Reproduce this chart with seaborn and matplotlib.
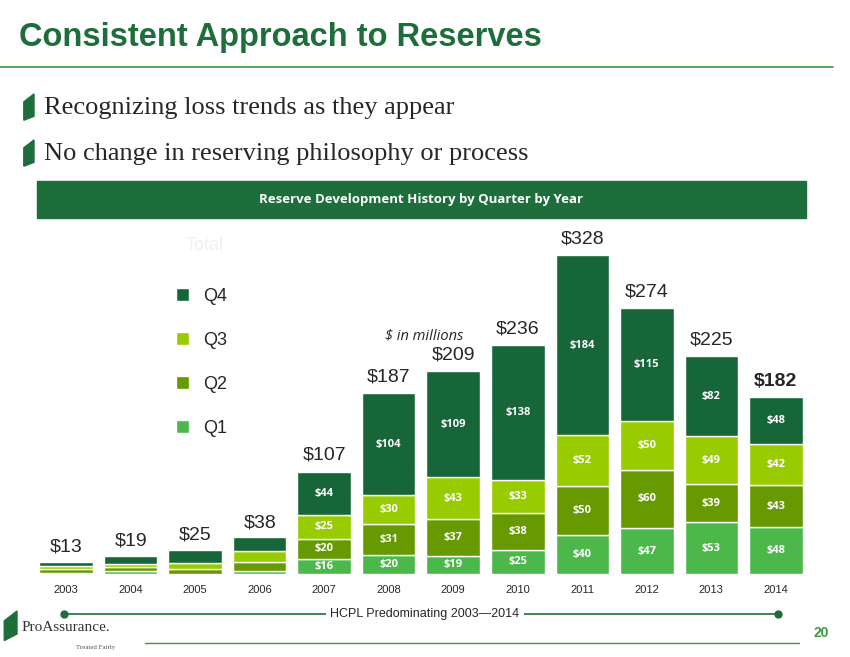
import numpy as np
import pandas as pd
import matplotlib.pyplot as plt
import seaborn as sns
from matplotlib.patches import Rectangle, Polygon
from matplotlib.lines import Line2D

years = ["2003", "2004", "2005", "2006", "2007", "2008", "2009", "2010", "2011", "2012", "2013", "2014"]
q1 = [1, 3, 0, 3, 16, 20, 19, 25, 40, 47, 53, 48]
q2 = [4, 4, 5, 9, 20, 31, 37, 38, 50, 60, 39, 43]
q3 = [3, 3, 6, 12, 25, 30, 43, 33, 52, 50, 49, 42]
q4 = [5, 9, 14, 14, 44, 104, 109, 138, 184, 115, 82, 48]
totals = [13, 19, 25, 38, 107, 187, 209, 236, 328, 274, 225, 182]
quarters = ["Q1", "Q2", "Q3", "Q4"]
colors = {"Q1": "#4cb84c", "Q2": "#669a00", "Q3": "#99cc00", "Q4": "#17663a"}

sns.set_style("white")
plt.rcParams['font.family'] = ['Arial', 'Liberation Sans', 'DejaVu Sans']
fig = plt.figure(figsize=(8.5, 6.57), dpi=100)

dark = "#1e6e3c"
fig.text(0.022, 0.93, "Consistent Approach to Reserves", fontsize=23.5, fontweight="bold", color=dark)
fig.add_artist(Line2D([0.0, 0.98], [0.898, 0.898], color="#3a9a3a", lw=1.2))
for y, t in [(0.835, "Recognizing loss trends as they appear"), (0.765, "No change in reserving philosophy or process")]:
    fig.add_artist(Polygon([[0.028, y - 0.018], [0.04, y - 0.012], [0.04, y + 0.022], [0.028, y + 0.01]],
                           closed=True, color=dark))
    fig.text(0.052, y, t, fontsize=19, family=["Liberation Serif", "DejaVu Serif"], va="center")
fig.add_artist(Rectangle((0.043, 0.668), 0.905, 0.056, color=dark))
fig.text(0.495, 0.696, "Reserve Development History by Quarter by Year", color="white", fontsize=9.5,
         fontweight="bold", ha="center", va="center", family=["Open Sans", "DejaVu Sans"])

ax = fig.add_axes([0.0435, 0.126, 0.9035, 0.524])
df = pd.DataFrame({"Year": years, "Q1": q1, "Q2": q2, "Q3": q3, "Q4": q4})
bottom = np.zeros(len(years))
for q in quarters:
    vals = df[q].values
    sns.barplot(x=df["Year"], y=vals, bottom=bottom, color=colors[q], width=0.83, ax=ax,
                saturation=1, label=q)
    for i, v in enumerate(vals):
        if i >= 4:
            ax.text(i, bottom[i] + v / 2, f"${v}", ha="center", va="center", color="white",
                    fontsize=8, fontweight="bold", family=["Open Sans", "DejaVu Sans"])
    bottom = bottom + vals
for i, t in enumerate(totals):
    ax.text(i, t + 6, f"${t}", ha="center", va="bottom", fontsize=14,
            fontweight="bold" if i == 11 else "normal")
ax.set_ylim(0, 352)
ax.set_xlim(-0.45, 11.45)
ax.set_yticks([])
ax.set_xlabel("")
ax.set_ylabel("")
ax.tick_params(axis="x", labelsize=8, length=0, pad=8)
sns.despine(ax=ax, left=True, bottom=True)
ax.text(4.95, 240, "$ in millions", fontsize=10.5, style="italic", family=["Open Sans", "DejaVu Sans"])
ax.text(1.85, 332, "Total", fontsize=13, color="#f0f0f0")
h, l = ax.get_legend_handles_labels()
ax.legend(h[::-1], l[::-1], loc="upper left", bbox_to_anchor=(0.16, 0.88), frameon=False,
          fontsize=13, handlelength=0.7, handleheight=0.7, labelspacing=1.5)

fig.add_artist(Line2D([0.075, 0.915], [0.066, 0.066], color=dark, lw=1.2, marker="o",
                      markevery=[0, 1], markersize=5))
fig.text(0.5, 0.066, "HCPL Predominating 2003\u20142014", ha="center", va="center", fontsize=9,
         bbox=dict(facecolor="white", edgecolor="none", pad=3))
fig.add_artist(Polygon([[0.005, 0.025], [0.02, 0.035], [0.02, 0.07], [0.005, 0.055]], closed=True, color=dark))
fig.text(0.025, 0.04, "ProAssurance.", fontsize=11, family=["Liberation Serif", "DejaVu Serif"], color="#333333")
fig.text(0.09, 0.012, "Treated Fairly", fontsize=5, family=["Liberation Serif", "DejaVu Serif"], color="#555555")
fig.add_artist(Line2D([0.17, 0.94], [0.022, 0.022], color="#3a9a3a", lw=1))
fig.text(0.975, 0.03, "20", fontsize=10, fontweight="bold", color="#3a9a3a", ha="right")

fig.savefig("out.png", dpi=100)
